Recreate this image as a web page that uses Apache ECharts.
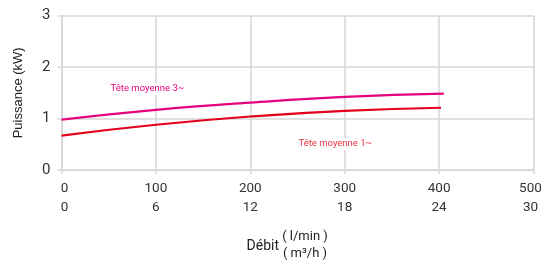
<!DOCTYPE html>
<html><head><meta charset="utf-8">
<script src="https://cdn.jsdelivr.net/npm/echarts@6/dist/echarts.min.js"></script>
<style>html,body{margin:0;padding:0;background:#fff}#c{width:541px;height:262px}</style>
</head><body><div id="c"></div>
<script>
// Débit (l/min) and power (kW)
const flow3 = [0, 100, 200, 300, 405];
const power3 = [0.98, 1.17, 1.31, 1.42, 1.485];
const flow1 = [0, 100, 200, 300, 402];
const power1 = [0.67, 0.88, 1.04, 1.15, 1.21];
const xTicks = [0, 100, 200, 300, 400, 500];        // l/min
const xTicks2 = [0, 6, 12, 18, 24, 30];             // m³/h
const yTicks = [0, 1, 2, 3];
const label3 = {text: 'Tête moyenne 3~', at: [91, 1.575]};
const label1 = {text: 'Tête moyenne 1~', at: [290, 0.505]};

const FONT = "'Liberation Sans Narrow', 'Roboto', sans-serif";
const chart = echarts.init(document.getElementById('c'), null, {renderer: 'canvas'});
const grey = '#d6d6d6';
const base = {fontFamily: FONT, fontSize: 13.5, color: '#333', lineHeight: 19};
chart.setOption({
  animation: false,
  grid: {left: 61.5, right: 7.5, top: 15.7, bottom: 92, containLabel: false, outerBoundsMode: 'none'},
  xAxis: {
    type: 'value', min: 0, max: 500, interval: 100,
    axisLine: {show: true, lineStyle: {color: grey, width: 1.5}},
    axisTick: {show: true, length: 4, lineStyle: {color: grey, width: 1.5}},
    splitLine: {show: true, lineStyle: {color: grey, width: 1.5}},
    axisLabel: {
      margin: 9, ...base,
      hideOverlap: false, showMaxLabel: true, showMinLabel: true,
      rich: {
        n: {...base},
        f: {...base, padding: [0, 0, 0, 6]},
        l: {...base, padding: [0, 6, 0, 0]}
      },
      formatter: v => {
        const i = xTicks.indexOf(v);
        const s = i === 0 ? 'f' : (i === xTicks.length - 1 ? 'l' : 'n');
        return '{' + s + '|' + v + '}\n{' + s + '|' + (i >= 0 ? xTicks2[i] : '') + '}';
      }
    }
  },
  yAxis: {
    type: 'value', min: 0, max: 3, interval: 1,
    name: 'Puissance (kW)', nameLocation: 'middle', nameGap: 37,
    nameTextStyle: {fontFamily: "'Liberation Sans', Arial, sans-serif", fontSize: 13, color: '#222'},
    axisLine: {show: true, lineStyle: {color: grey, width: 1.5}},
    axisTick: {show: true, length: 4, lineStyle: {color: grey, width: 1.5}},
    splitLine: {show: true, lineStyle: {color: grey, width: 1.5}},
    axisLabel: {margin: 11, fontFamily: FONT, fontSize: 15, color: '#333',
      formatter: v => yTicks.includes(v) ? String(v) : ''}
  },
  series: [
    {type: 'line', smooth: true, symbol: 'none', data: flow3.map((x, i) => [x, power3[i]]),
     lineStyle: {color: '#e5007d', width: 2.2}},
    {type: 'line', smooth: true, symbol: 'none', data: flow1.map((x, i) => [x, power1[i]]),
     lineStyle: {color: '#e2001a', width: 2.2}}
  ]
});
function place(lbl, color) {
  const p = chart.convertToPixel({gridIndex: 0}, lbl.at);
  return {type: 'text', x: p[0], y: p[1], z: 10,
    style: {text: lbl.text, fill: color, font: "9.5px " + FONT, align: 'center', verticalAlign: 'middle',
      backgroundColor: '#fff', padding: [1, 2]}};
}
chart.setOption({graphic: [
  place(label3, '#e6007e'),
  place(label1, '#e8303f'),
  {type: 'text', x: 279, y: 246, style: {text: 'Débit', font: "14px " + FONT, fill: '#222', align: 'right', verticalAlign: 'middle'}},
  {type: 'text', x: 305, y: 237, style: {text: '( l/min )', font: "13px " + FONT, fill: '#222', align: 'center', verticalAlign: 'middle'}},
  {type: 'text', x: 305, y: 253.5, style: {text: '( m³/h )', font: "13px " + FONT, fill: '#222', align: 'center', verticalAlign: 'middle'}}
]});
</script></body></html>
